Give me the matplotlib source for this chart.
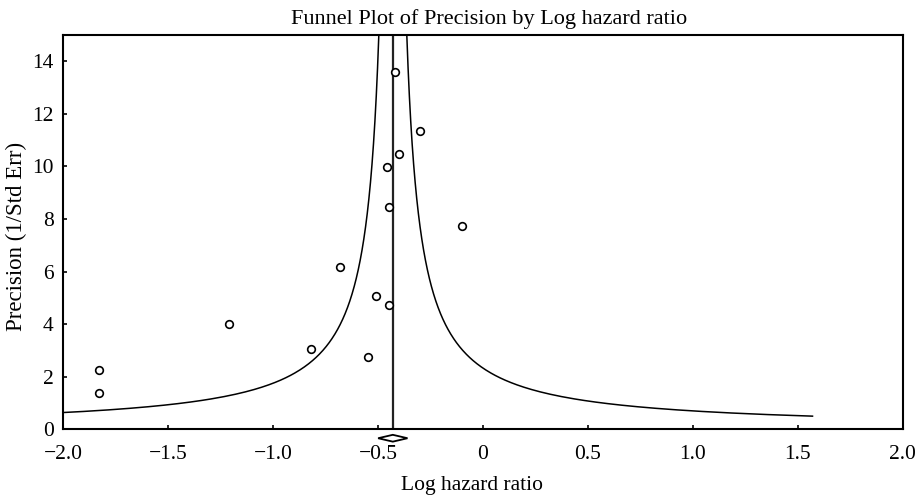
import numpy as np
import matplotlib
matplotlib.use('Agg')
import matplotlib.pyplot as plt

# Study estimates
log_hr = [-0.42, -0.30, -0.40, -0.46, -0.45, -0.10, -0.68, -0.51,
          -0.45, -1.21, -0.82, -0.55, -1.83, -1.83]
precision = [13.60, 11.35, 10.46, 9.99, 8.47, 7.73, 6.16, 5.06,
             4.74, 4.01, 3.04, 2.76, 2.24, 1.39]

# Pooled estimate and funnel settings
pooled = -0.43
pooled_lo = -0.50
pooled_hi = -0.36
funnel_k = 1.0
prec_min = 0.5

xticks = [-2.0, -1.5, -1.0, -0.5, 0, 0.5, 1.0, 1.5, 2.0]
xticklabels = ['\u22122.0', '\u22121.5', '\u22121.0', '\u22120.5', '0', '0.5', '1.0', '1.5', '2.0']
yticks = [0, 2, 4, 6, 8, 10, 12, 14]

plt.rcParams['font.family'] = ['Liberation Serif', 'DejaVu Serif']

fig = plt.figure(figsize=(9.18, 4.99), dpi=100)
ax = fig.add_axes([0.069, 0.1397, 0.9144, 0.7902])

# Funnel boundaries
p = np.linspace(prec_min, 60, 2000)
ax.plot(pooled - funnel_k / p, p, color='black', lw=1.1)
ax.plot(pooled + funnel_k / p, p, color='black', lw=1.1)
ax.axvline(pooled, color='#222222', lw=1.6)

ax.plot(log_hr, precision, 'o', mfc='white', mec='black', ms=5.5, mew=1.2)

# Diamond for pooled estimate, below axis
dy = -0.34
dh = 0.13
ax.fill([pooled_lo, pooled, pooled_hi, pooled],
        [dy, dy + dh, dy, dy - dh], facecolor='white', edgecolor='black',
        lw=1.3, clip_on=False, zorder=5)

ax.set_xlim(-2.0, 2.0)
ax.set_ylim(0, 15)
ax.set_xticks(xticks)
ax.set_xticklabels(xticklabels)
ax.set_yticks(yticks)
ax.tick_params(direction='in', length=3, width=1.2, labelsize=15.5)
ax.tick_params(axis='x', pad=11)
ax.tick_params(axis='y', pad=7)
for s in ax.spines.values():
    s.set_linewidth(1.5)

fig.text(472 / 918, 1 - 490 / 499, 'Log hazard ratio', ha='center',
         va='baseline', fontsize=15.5)
fig.text(16.5 / 918, 1 - 236 / 499, 'Precision (1/Std Err)', ha='center',
         va='center', rotation=90, fontsize=16.5)
fig.text(489 / 918, 1 - 24 / 499, 'Funnel Plot of Precision by Log hazard ratio',
         ha='center', va='baseline', fontsize=16)

fig.savefig('out.png', dpi=100)
